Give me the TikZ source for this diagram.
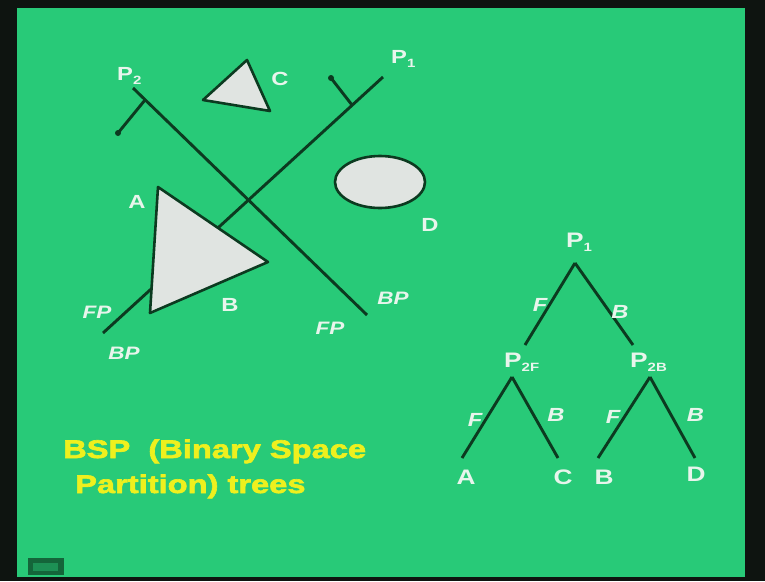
\documentclass[tikz,border=0pt]{standalone}
\usepackage{fontspec}
\setmainfont{Liberation Sans}[FakeStretch=1.25]
\newfontfamily\heavyfont{Liberation Sans Bold}[FakeStretch=1.28, FakeBold=2.5]
\usetikzlibrary{positioning}

\definecolor{board}{RGB}{40,202,120}
\definecolor{frame}{RGB}{14,20,16}
\definecolor{ink}{RGB}{12,58,32}
\definecolor{shade}{RGB}{224,228,225}
\definecolor{chalk}{RGB}{232,245,236}
\definecolor{marker}{RGB}{238,240,30}

\newcommand{\lowsub}[1]{\raisebox{-4pt}{\fontsize{12}{12}\selectfont #1}}

\tikzset{
	plane/.style = {draw=ink, line width=2.9pt},
	solid obj/.style = {draw=ink, fill=shade, line width=2.6pt, line join=round},
	lbl/.style = {text=chalk, inner sep=0pt, font=\bfseries\fontsize{19}{19}\selectfont},
	side/.style = {text=chalk, inner sep=0pt, font=\bfseries\itshape\fontsize{18}{18}\selectfont},
	tlbl/.style = {text=chalk, inner sep=0pt, font=\bfseries\fontsize{21}{21}\selectfont},
	elbl/.style = {text=chalk, inner sep=0pt, font=\bfseries\itshape\fontsize{19}{19}\selectfont},
	title/.style = {text=marker, inner sep=0pt, anchor=base west, font=\heavyfont\fontsize{25.5}{25.5}\selectfont},
}

\begin{document}
\begin{tikzpicture}[x=1pt, y=-1pt]
			\useasboundingbox (0,0) rectangle (765,581);
			\fill[frame] (0,0) rectangle (765,581);% screen edge
			\fill[board] (17,8) rectangle (745,577);% slide
			\fill[ink!70!board] (28,558) rectangle (64,575);% slide icon
			\fill[board!60!ink] (33,563) rectangle (58,571);

			%	Plane P1 with its normal
			\draw[plane] (383,77) -- (103,333);
			\draw[plane] (352,105) -- (331,78);
			\fill[ink] (331,78) circle (3);

			%	Plane P2 with its normal
			\draw[plane] (133,88) -- (367,315);
			\draw[plane] (145,100) -- (118,133);
			\fill[ink] (118,133) circle (3);

			%	Objects
			\draw[solid obj] (158,187) -- (268,262) -- (150,313) -- cycle;% A and B
			\draw[solid obj] (247,60) -- (203,100) -- (270,111) -- cycle;% C
			\draw[solid obj] (380,182) ellipse (45 and 26);% D

			%	Plane and object names
			\node[lbl, anchor=base west] (p2) at (117,80) {P\lowsub{2}};
			\node[lbl, anchor=base west] (p1) at (391,63) {P\lowsub{1}};
			\node[lbl] (la) at (137,202) {A};
			\node[lbl] (lb) at (230,305) {B};
			\node[lbl] (lc) at (280,79) {C};
			\node[lbl] (ld) at (430,225) {D};
			\node[side] (fp1) at (97,312) {FP};
			\node[side] (bp1) at (124,353) {BP};
			\node[side] (fp2) at (330,328) {FP};
			\node[side] (bp2) at (393,298) {BP};

			%	Tree
			\coordinate (t1) at (575,263);
			\coordinate (t1f) at (525,345);
			\coordinate (t1b) at (633,345);
			\coordinate (t2f) at (512,377);
			\coordinate (t2b) at (650,377);
			\coordinate (ta) at (462,458);
			\coordinate (tc) at (558,458);
			\coordinate (tb) at (598,458);
			\coordinate (td) at (695,458);

			\node[tlbl, anchor=base west] (n1) at (566,247) {P\lowsub{1}};
			\node[tlbl, anchor=base west] (n2f) at (504,367) {P\lowsub{2F}};
			\node[tlbl, anchor=base west] (n2b) at (630,367) {P\lowsub{2B}};
			\node[tlbl] (na) at (466,477) {A};
			\node[tlbl] (nc) at (563,477) {C};
			\node[tlbl] (nb) at (604,477) {B};
			\node[tlbl] (nd) at (696,474) {D};

			\draw[plane] (t1) -- node[elbl, xshift=-10, yshift=-1] {F} (t1f);
			\draw[plane] (t1) -- node[elbl, xshift=16, yshift=-8] {B} (t1b);
			\draw[plane] (t2f) -- node[elbl, xshift=-12, yshift=-2] {F} (ta);
			\draw[plane] (t2f) -- node[elbl, xshift=21, yshift=3] {B} (tc);
			\draw[plane] (t2b) -- node[elbl, xshift=-11, yshift=1] {F} (tb);
			\draw[plane] (t2b) -- node[elbl, xshift=23, yshift=3] {B} (td);

			%	Caption
			\node[title] (cap1) at (63,458) {BSP\ \ (Binary Space};
			\node[title] (cap2) at (75,493) {Partition) trees};
\end{tikzpicture}
\end{document}
